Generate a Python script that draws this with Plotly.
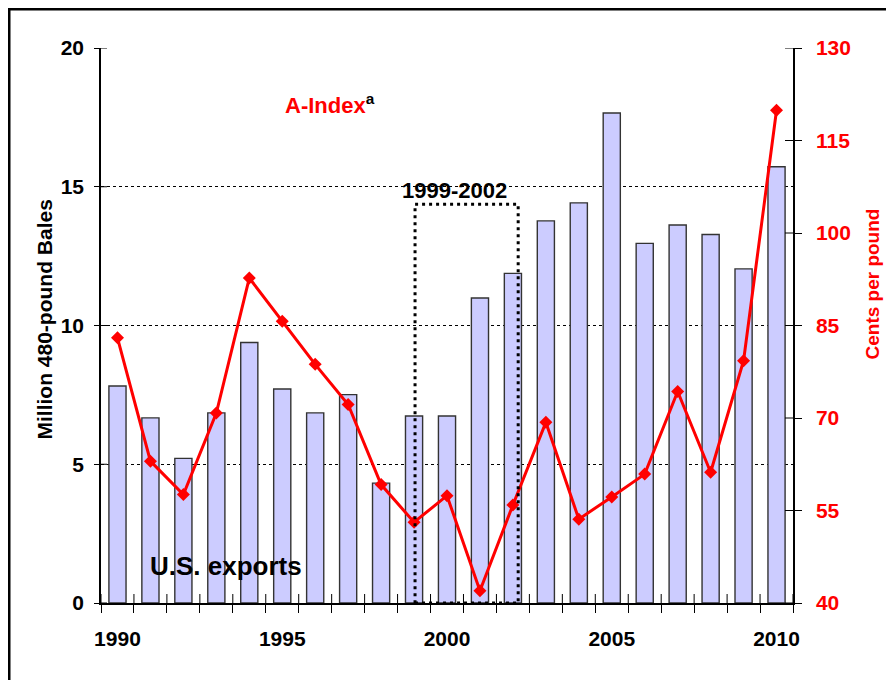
import plotly.graph_objects as go

years = list(range(1990, 2011))
us_exports = [7.82, 6.67, 5.21, 6.85, 9.39, 7.71, 6.85, 7.51, 4.32, 6.74, 6.74,
              10.99, 11.88, 13.77, 14.42, 17.66, 12.96, 13.62, 13.28, 12.04, 15.72]
a_index = [83.0, 63.0, 57.6, 70.8, 92.7, 85.7, 78.7, 72.2, 59.2, 53.1, 57.4,
           42.0, 55.9, 69.3, 53.6, 57.2, 60.9, 74.3, 61.2, 79.3, 119.9]
left_ticks = [0, 5, 10, 15, 20]
right_ticks = [40, 55, 70, 85, 100, 115, 130]
year_labels = [1990, 1995, 2000, 2005, 2010]
period_box = (1999, 2002)

FONT = "Liberation Sans, Arial, sans-serif"
boundaries = [y - 0.5 for y in years] + [years[-1] + 0.5]
xr = [years[0] - 0.5, years[-1] + 0.5]

W, H = 886, 672
L, R, T, B = 93, 101, 40, 77
PW, PH = W - L - R, H - T - B

fig = go.Figure()
fig.add_trace(go.Bar(x=years, y=us_exports, width=0.52,
                     marker=dict(color="#CCCCFF", line=dict(color="#333333", width=1.4)),
                     showlegend=False, hoverinfo="skip"))
fig.add_trace(go.Scatter(x=years, y=a_index, xaxis="x2", yaxis="y2", mode="lines+markers",
                         line=dict(color="#FF0000", width=3),
                         marker=dict(symbol="diamond", size=10, color="#FF0000"),
                         showlegend=False, hoverinfo="skip"))

tickfont = dict(family=FONT, size=21, color="black", weight="bold")
fig.update_layout(
    width=W, height=H,
    margin=dict(l=L, r=R, t=T, b=B),
    paper_bgcolor="white", plot_bgcolor="white",
    xaxis=dict(range=xr, tickmode="array", tickvals=boundaries, ticks="outside",
               ticklen=8, tickcolor="black", tickwidth=1, showticklabels=False,
               showgrid=False, zeroline=False, showline=True, linecolor="black",
               linewidth=1.5),
    xaxis2=dict(range=xr, overlaying="x", anchor="y2", side="bottom", tickmode="array",
                tickvals=year_labels, ticktext=[str(v) for v in year_labels], ticks="",
                showgrid=False, zeroline=False, showline=False, tickfont=tickfont,
                ticklabelstandoff=21),
    yaxis=dict(range=[0, 20], tickmode="array", tickvals=left_ticks, ticks="outside",
               ticklen=5, tickcolor="black", showgrid=True, gridcolor="black",
               griddash="dot", gridwidth=1, zeroline=False, showline=True,
               linecolor="black", linewidth=1.5, tickfont=tickfont, ticklabelstandoff=6),
    yaxis2=dict(range=[40, 130], overlaying="y", anchor="x2", side="right", tickmode="array",
                tickvals=right_ticks, ticks="outside", ticklen=7, tickcolor="black",
                showgrid=False, zeroline=False, showline=True, linecolor="black",
                linewidth=1.5, tickfont=dict(family=FONT, size=21, color="#FF0000", weight="bold"),
                ticklabelstandoff=10),
)

# inside halves of the axis ticks
for v in boundaries:
    fig.add_shape(type="line", xref="x", yref="paper", x0=v, x1=v, y0=0, y1=9 / PH,
                  line=dict(color="black", width=1))
for v in left_ticks:
    fig.add_shape(type="line", xref="paper", yref="y", x0=0, x1=6 / PW, y0=v, y1=v,
                  line=dict(color="black", width=1))
for v in right_ticks:
    fig.add_shape(type="line", xref="paper", yref="y2", x0=1 - 8 / PW, x1=1, y0=v, y1=v,
                  line=dict(color="black", width=1))

# outer frame
fig.add_shape(type="rect", xref="paper", yref="paper",
              x0=(1.25 - L) / PW, x1=(W + 20 - L) / PW,
              y0=-(B + 20) / PH, y1=(PH + T - 1.25) / PH,
              line=dict(color="black", width=2.5), fillcolor="rgba(0,0,0,0)", layer="below")
# 1999-2002 dotted box
fig.add_shape(type="rect", xref="x", yref="y", x0=period_box[0] + 0.03, x1=period_box[1] + 0.16,
              y0=0, y1=14.37, line=dict(color="black", width=3, dash="3px,4px"),
              fillcolor="rgba(0,0,0,0)", layer="above")

fig.add_annotation(x=period_box[0] - 0.43, y=14.87, xref="x", yref="y", xanchor="left",
                   yanchor="middle", showarrow=False, text="1999-2002",
                   font=dict(family=FONT, size=22, color="black", weight="bold"))
fig.add_annotation(x=1995.02, y=17.97, xref="x", yref="y", xanchor="left", yanchor="middle",
                   showarrow=False,
                   text="A-Index<sup><span style='color:black'>a</span></sup>",
                   font=dict(family=FONT, size=22, color="#FF0000", weight="bold"))
fig.add_annotation(x=1990.93, y=1.35, xref="x", yref="y", xanchor="left", yanchor="middle",
                   showarrow=False, text="U.S. exports",
                   font=dict(family=FONT, size=26, color="black", weight="bold"))
# axis titles (positions in page pixels of the reference, page offset 8px)
fig.add_annotation(x=(43.5 - 8 - L) / PW, y=(595 - (320 - 8)) / PH, xref="paper", yref="paper",
                   xanchor="center", yanchor="middle",
                   showarrow=False, textangle=-90, text="Million 480-pound Bales",
                   font=dict(family=FONT, size=21, color="black", weight="bold"))
fig.add_annotation(x=(872 - 8 - L) / PW, y=(595 - (284.5 - 8)) / PH, xref="paper", yref="paper",
                   xanchor="center", yanchor="middle",
                   showarrow=False, textangle=-90, text="Cents per pound",
                   font=dict(family=FONT, size=19, color="#FF0000", weight="bold"))

fig.write_html("out.html")
